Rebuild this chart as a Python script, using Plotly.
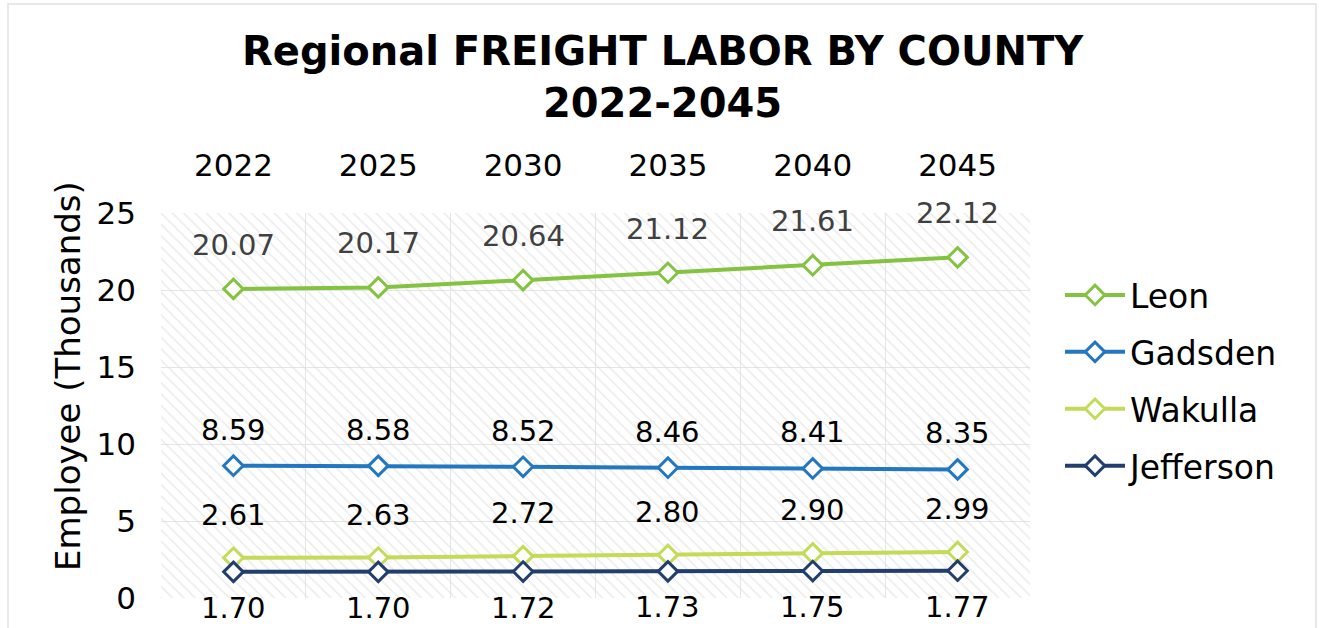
import plotly.graph_objects as go

years = ["2022", "2025", "2030", "2035", "2040", "2045"]
leon = [20.07, 20.17, 20.64, 21.12, 21.61, 22.12]
gadsden = [8.59, 8.58, 8.52, 8.46, 8.41, 8.35]
wakulla = [2.61, 2.63, 2.72, 2.80, 2.90, 2.99]
jefferson = [1.70, 1.70, 1.72, 1.73, 1.75, 1.77]
y_max = 25

series = [
    ("Leon", leon, "#84C341", 44, "#404040"),
    ("Gadsden", gadsden, "#2377C0", 36, "#000000"),
    ("Wakulla", wakulla, "#C3DB56", 43, "#000000"),
    ("Jefferson", jefferson, "#213E6E", -36, "#000000"),
]

FONT = "DejaVu Sans"
L, R, T, B = 161, 289, 213, 30
W, H = 1319, 628
PW, PH = W - L - R, H - T - B

fig = go.Figure()

# hatched plot-area background
fig.add_trace(go.Bar(
    x=years, y=[y_max] * len(years), width=1,
    marker=dict(color="rgba(0,0,0,0)", line=dict(width=0),
                pattern=dict(shape="\\", fgcolor="#DADADA", bgcolor="rgba(0,0,0,0)", size=8, solidity=0.2)),
    showlegend=False, hoverinfo="skip",
))

annotations = []
for name, vals, color, shift, tcolor in series:
    fig.add_trace(go.Scatter(
        x=years, y=vals, mode="lines+markers", name=name, legendgroup=name,
        line=dict(color=color, width=4),
        marker=dict(symbol="diamond", size=15, color="white", line=dict(color=color, width=3)),
    ))
    for i, v in enumerate(vals):
        annotations.append(dict(
            x=i, y=v, xref="x", yref="y", text=f"{v:.2f}", showarrow=False, yshift=shift,
            xanchor="center", yanchor="middle",
            font=dict(family=FONT, size=29, color=tcolor),
        ))

annotations.append(dict(
    text="<b>Regional FREIGHT LABOR BY COUNTY<br>2022-2045</b>",
    x=(663 - L) / PW, y=(H - B - 76.5) / PH, xref="paper", yref="paper",
    xanchor="center", yanchor="middle", showarrow=False,
    font=dict(family=FONT, size=40, color="black"),
))
annotations.append(dict(
    text="Employee (Thousands)", textangle=-90,
    x=(68 - L) / PW, y=(H - B - 376) / PH, xref="paper", yref="paper",
    xanchor="center", yanchor="middle", showarrow=False,
    font=dict(family=FONT, size=34, color="black"),
))

fig.update_layout(
    width=W, height=H,
    margin=dict(l=L, r=R, t=T, b=B, autoexpand=False),
    paper_bgcolor="white", plot_bgcolor="white",
    barmode="overlay",
    font=dict(family=FONT, color="black"),
    xaxis=dict(side="top", type="category", tickson="boundaries", showgrid=True,
               gridcolor="#E3E6E9", gridwidth=1, ticks="", showline=False,
               ticklabelstandoff=30,
               tickfont=dict(size=31, color="black"), range=[-0.5, 5.5]),
    yaxis=dict(range=[0, y_max], dtick=5, showgrid=True, gridcolor="#E3E6E9", gridwidth=1,
               zeroline=False, showline=False, ticks="", ticklabelstandoff=24,
               tickfont=dict(size=31, color="black")),
    legend=dict(x=(1060 - L) / PW, y=(H - B - 267) / PH, xanchor="left", yanchor="top",
                tracegroupgap=11, itemwidth=60,
                font=dict(family=FONT, size=33, color="black"),
                bgcolor="rgba(0,0,0,0)"),
    annotations=annotations,
    shapes=[dict(type="rect", xref="paper", yref="paper",
                 x0=(8 - L) / PW, x1=(1316 - L) / PW,
                 y0=(H - B - 640) / PH, y1=(H - B - 4) / PH,
                 line=dict(color="#DDE2E6", width=1.5), layer="below")],
)

fig.write_html("out.html", config={"displayModeBar": False},
               post_script="document.body.style.margin='0';")
